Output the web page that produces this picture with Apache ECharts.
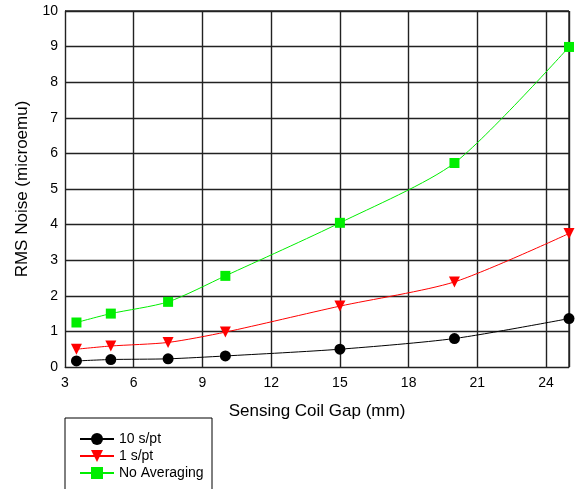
<!DOCTYPE html>
<html><head><meta charset="utf-8">
<script src="https://cdn.jsdelivr.net/npm/echarts@6/dist/echarts.min.js"></script>
<style>html,body{margin:0;padding:0;background:#fff}#c{width:575px;height:489px}</style>
</head><body><div id="c"></div>
<script>
const gapMm = [3.5, 5, 7.5, 10, 15, 20, 25];
const s10 = [0.17, 0.21, 0.23, 0.31, 0.5, 0.8, 1.36];
const s1 = [0.5, 0.59, 0.69, 0.98, 1.71, 2.39, 3.75];
const noAvg = [1.25, 1.5, 1.83, 2.56, 4.05, 5.73, 8.99];
const names = ['10 s/pt', '1 s/pt', 'No Averaging'];
const pair = a => gapMm.map((x, i) => [x, a[i]]);
const font = 'Liberation Sans, Arial, sans-serif';
const chart = echarts.init(document.getElementById('c'));
const mk = (name, data, color, symbol, size) => ({
  name, type: 'line', data: pair(data), smooth: 0.25, symbol, symbolSize: size,
  lineStyle: { color, width: 1 }, itemStyle: { color }, animation: false
});
chart.setOption({
  animation: false,
  grid: { left: 65, right: 6, top: 11, bottom: 122, containLabel: false },
  xAxis: {
    type: 'value', min: 3, max: 25, interval: 3,
    name: 'Sensing Coil Gap (mm)', nameLocation: 'middle', nameGap: 36,
    nameTextStyle: { fontFamily: font, fontSize: 17, color: '#000' },
    axisLine: { show: true, lineStyle: { color: '#222' } },
    axisTick: { show: false },
    axisLabel: { fontFamily: font, fontSize: 14, color: '#000', margin: 9, showMaxLabel: false },
    splitLine: { show: true, lineStyle: { color: '#222', width: 1.4 } }
  },
  yAxis: {
    type: 'value', min: 0, max: 10, interval: 1,
    name: 'RMS Noise (microemu)', nameLocation: 'middle', nameGap: 34,
    nameTextStyle: { fontFamily: font, fontSize: 17, color: '#000' },
    axisLine: { show: true, lineStyle: { color: '#222' } },
    axisTick: { show: false },
    axisLabel: { fontFamily: font, fontSize: 14, color: '#000', margin: 7 },
    splitLine: { show: true, lineStyle: { color: '#222', width: 1.4 } }
  },
  graphic: [
    { type: 'rect', shape: { x: 65, y: 418, width: 147, height: 90 },
      style: { fill: 'none', stroke: '#000', lineWidth: 1 } },
    { type: 'line', shape: { x1: 569, y1: 11, x2: 569, y2: 367 },
      style: { stroke: '#222', lineWidth: 1.4 } },
    { type: 'line', shape: { x1: 65, y1: 11, x2: 569, y2: 11 },
      style: { stroke: '#222', lineWidth: 1.4 } }
  ],
  legend: {
    orient: 'vertical', left: 74, top: 427, itemGap: 3, itemWidth: 34, itemHeight: 15,
    textStyle: { fontFamily: font, fontSize: 14, color: '#000' },
    data: names
  },
  series: [
    mk(names[0], s10, '#000000', 'circle', 11),
    mk(names[1], s1, '#ff0000', 'triangle', 11),
    mk(names[2], noAvg, '#00ee00', 'rect', 10)
  ].map((s, i) => i === 1 ? Object.assign(s, { symbolRotate: 180 }) : s)
});
</script></body></html>
